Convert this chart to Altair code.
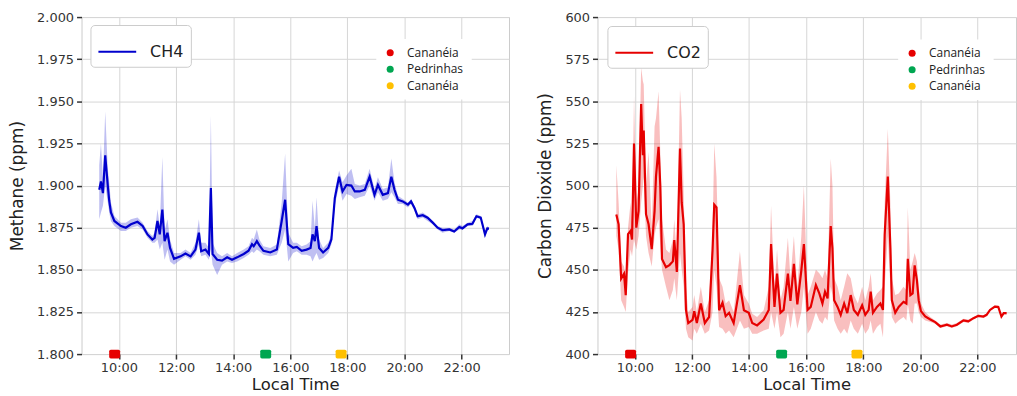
import altair as alt
import pandas as pd

# ---------------- data ----------------
ch4_time = [9.31, 9.37, 9.44, 9.52, 9.61, 9.66, 9.72, 9.84, 10.07, 10.24, 10.42, 10.65, 10.83, 11.0,
            11.17, 11.25, 11.35, 11.43, 11.52, 11.6, 11.70, 11.79, 11.93, 12.16, 12.33, 12.51, 12.68,
            12.80, 12.88, 13.03, 13.15, 13.22, 13.28, 13.44, 13.61, 13.79, 13.96, 14.14, 14.37, 14.54,
            14.66, 14.72, 14.83, 14.92, 15.06, 15.30, 15.53, 15.70, 15.82, 15.93, 16.1, 16.23, 16.40,
            16.57, 16.71, 16.78, 16.86, 16.92, 17.01, 17.15, 17.33, 17.44, 17.56, 17.71, 17.83, 17.97,
            18.14, 18.26, 18.43, 18.61, 18.78, 18.95, 19.07, 19.24, 19.42, 19.54, 19.65, 19.77, 19.94,
            20.12, 20.23, 20.35, 20.46, 20.64, 20.81, 20.99, 21.16, 21.33, 21.57, 21.74, 21.92, 22.03,
            22.21, 22.38, 22.52, 22.67, 22.82, 22.90, 22.96]
ch4_mean = [1.8975, 1.9024, 1.8955, 1.918, 1.900, 1.891, 1.884, 1.879, 1.876, 1.875, 1.877, 1.8785,
            1.876, 1.871, 1.868, 1.869, 1.879, 1.871, 1.8857, 1.867, 1.872, 1.863, 1.8565, 1.858,
            1.8597, 1.858, 1.862, 1.872, 1.861, 1.862, 1.8594, 1.8985, 1.8594, 1.856, 1.8555, 1.8574,
            1.856, 1.8574, 1.8594, 1.8613, 1.8652, 1.864, 1.867, 1.8645, 1.8613, 1.8603, 1.862, 1.879,
            1.8916, 1.8652, 1.863, 1.8636, 1.8613, 1.862, 1.863, 1.871, 1.867, 1.876, 1.863, 1.8603,
            1.863, 1.868, 1.8926, 1.9053, 1.8965, 1.9004, 1.900, 1.8965, 1.8965, 1.8975, 1.9053, 1.8945,
            1.9004, 1.8945, 1.8955, 1.9053, 1.8975, 1.8916, 1.8906, 1.8887, 1.8906, 1.8867, 1.8818,
            1.8824, 1.8809, 1.878, 1.875, 1.8735, 1.874, 1.8727, 1.8754, 1.8746, 1.877, 1.8773, 1.8818,
            1.881, 1.871, 1.8746, 1.8745]
ch4_low = [1.880, 1.884, 1.888, 1.900, 1.890, 1.884, 1.879, 1.876, 1.873, 1.873, 1.875, 1.876, 1.874,
           1.869, 1.866, 1.866, 1.868, 1.862, 1.866, 1.856, 1.862, 1.855, 1.853, 1.856, 1.858, 1.856,
           1.859, 1.865, 1.858, 1.859, 1.856, 1.862, 1.853, 1.847, 1.853, 1.855, 1.854, 1.855, 1.857,
           1.859, 1.861, 1.860, 1.862, 1.861, 1.859, 1.858, 1.859, 1.866, 1.874, 1.855, 1.860, 1.861,
           1.859, 1.859, 1.858, 1.855, 1.858, 1.860, 1.856, 1.857, 1.860, 1.865, 1.888, 1.900, 1.891,
           1.895, 1.894, 1.892, 1.893, 1.894, 1.900, 1.891, 1.896, 1.891, 1.892, 1.896, 1.893, 1.889,
           1.889, 1.887, 1.889, 1.885, 1.880, 1.881, 1.879, 1.877, 1.874, 1.872, 1.873, 1.872, 1.874,
           1.874, 1.876, 1.876, 1.881, 1.880, 1.869, 1.873, 1.874]
ch4_high = [1.912, 1.925, 1.905, 1.944, 1.910, 1.902, 1.890, 1.882, 1.878, 1.878, 1.880, 1.881, 1.878,
            1.873, 1.870, 1.872, 1.886, 1.876, 1.917, 1.873, 1.880, 1.868, 1.860, 1.860, 1.862, 1.860,
            1.866, 1.880, 1.866, 1.866, 1.863, 1.9415, 1.866, 1.860, 1.858, 1.860, 1.858, 1.860, 1.862,
            1.864, 1.869, 1.868, 1.874, 1.868, 1.864, 1.863, 1.865, 1.890, 1.919, 1.872, 1.866, 1.866,
            1.864, 1.865, 1.867, 1.891, 1.875, 1.893, 1.868, 1.863, 1.866, 1.871, 1.897, 1.909, 1.902,
            1.906, 1.910, 1.901, 1.900, 1.901, 1.910, 1.898, 1.905, 1.898, 1.899, 1.916, 1.902, 1.894,
            1.892, 1.890, 1.892, 1.888, 1.883, 1.884, 1.882, 1.879, 1.876, 1.875, 1.875, 1.874, 1.877,
            1.876, 1.878, 1.879, 1.883, 1.882, 1.873, 1.876, 1.875]

co2_time = [9.35, 9.43, 9.52, 9.62, 9.68, 9.76, 9.85, 9.90, 9.97, 10.05, 10.13, 10.22, 10.28, 10.31,
            10.39, 10.48, 10.59, 10.69, 10.74, 10.83, 10.89, 10.95, 11.09, 11.21, 11.33, 11.38, 11.47,
            11.58, 11.64, 11.71, 11.79, 11.87, 12.02, 12.08, 12.17, 12.31, 12.45, 12.60, 12.72, 12.78,
            12.86, 12.95, 13.07, 13.18, 13.30, 13.46, 13.68, 13.82, 13.99, 14.11, 14.28, 14.51, 14.69,
            14.77, 14.89, 14.98, 15.10, 15.21, 15.36, 15.45, 15.57, 15.69, 15.83, 15.92, 16.05, 16.16,
            16.34, 16.46, 16.57, 16.66, 16.75, 16.86, 16.92, 16.98, 17.10, 17.21, 17.33, 17.44, 17.56,
            17.67, 17.81, 17.96, 18.07, 18.19, 18.26, 18.34, 18.48, 18.60, 18.69, 18.75, 18.86, 18.95,
            19.0, 19.12, 19.24, 19.41, 19.51, 19.56, 19.65, 19.73, 19.80, 19.88, 19.94, 20.02, 20.17,
            20.35, 20.52, 20.70, 20.93, 21.1, 21.28, 21.51, 21.68, 21.86, 22.03, 22.21, 22.32, 22.44,
            22.61, 22.73, 22.84, 22.92, 23.02]
co2_mean = [482.9, 477, 444.8, 447.7, 435, 471.2, 473.1, 468, 525, 475, 485, 548.4, 518, 532.7, 483,
            477, 462.3, 485, 505.4, 523, 500, 456.5, 451.6, 452.8, 455, 467.6, 448.7, 522, 490, 477,
            426.2, 418.4, 420.3, 425.5, 418.4, 430, 418.4, 422, 461.5, 488.7, 487, 426, 430.5, 422.5,
            424.5, 418.4, 440.9, 426, 424.5, 418.4, 417, 420.5, 426.2, 465.3, 428, 447.7, 424.5, 426.2,
            447.7, 431.5, 453.5, 429.5, 449.6, 465.3, 426.2, 428, 441, 436, 430, 437, 433, 476, 463,
            432, 428, 423.3, 430, 424.3, 435, 426.2, 423.3, 429, 423.3, 426.2, 437, 424.5, 428, 430,
            426.2, 471, 505.4, 463, 432, 424.5, 428, 431, 430, 456.5, 435, 436, 452.6, 443.7, 432,
            425.5, 422.3, 420.5, 419, 416.4, 417.4, 416.4, 417.4, 420, 419.4, 421.3, 422.7, 422.3,
            423.3, 426.2, 428.2, 428, 422.3, 424.3, 424.3]
co2_low = [470, 462, 432, 428, 425, 448, 462, 458, 468, 462, 470, 490, 500, 505, 470, 460, 452, 470,
           475, 480, 465, 450, 440, 432, 438, 445, 432, 460, 450, 440, 415, 410, 408, 415, 412, 418,
           412, 414, 425, 450, 440, 416, 415, 412, 414, 410, 420, 415, 416, 412, 412, 414, 415, 425,
           415, 425, 410, 412, 425, 415, 428, 415, 425, 440, 412, 415, 425, 420, 418, 422, 420, 440,
           435, 420, 415, 412, 415, 412, 420, 415, 412, 418, 412, 415, 420, 412, 416, 418, 410, 440,
           470, 440, 422, 418, 420, 422, 420, 430, 420, 418, 430, 430, 425, 422, 420, 419, 418, 415.5,
           416.5, 415.5, 416.5, 419, 418.5, 420.5, 422, 421.5, 422.5, 425.5, 427.5, 427, 421.5, 423.5,
           423.5]
co2_high = [512, 490, 455, 452, 445, 475, 490, 478, 553, 490, 498, 570, 562, 560, 500, 520, 475, 535,
            540, 556, 520, 480, 462, 460, 468, 480, 458, 557, 540, 495, 440, 425, 428, 435, 425, 440,
            425, 432, 470, 525, 505, 445, 440, 430, 432, 425, 461, 435, 430, 424, 422, 426, 440, 488,
            440, 462, 432, 440, 469, 445, 470, 440, 470, 500, 435, 440, 450, 448, 445, 450, 445, 516,
            500, 445, 440, 432, 440, 448, 445, 435, 430, 440, 432, 440, 448, 432, 436, 438, 440, 490,
            533.7, 490, 445, 435, 436, 440, 438, 487, 450, 455, 460, 455, 440, 430, 425, 422, 420,
            417.5, 418.5, 417.5, 418.5, 421, 420.5, 422, 423.5, 423, 424, 427, 429, 429, 423, 425, 425]

station_keys = ["Cananéia 1", "Pedrinhas", "Cananéia 2"]
station_time = [9.85, 15.14, 17.78]
station_colors = ["#e60000", "#00a651", "#ffc000"]

x_ticks = [10, 12, 14, 16, 18, 20, 22]
ch4_ticks = [1.800, 1.825, 1.850, 1.875, 1.900, 1.925, 1.950, 1.975, 2.000]
co2_ticks = [400, 425, 450, 475, 500, 525, 550, 575, 600]

FONT = "DejaVu Sans"
ROUNDED = ("M-0.7,-0.8 L0.7,-0.8 Q1,-0.8 1,-0.5 L1,0.5 Q1,0.8 0.7,0.8 L-0.7,0.8 "
           "Q-1,0.8 -1,0.5 L-1,-0.5 Q-1,-0.8 -0.7,-0.8 Z")


def panel(times, mean, low, high, name, color, ytitle, ydom, yticks, yfmt, width, xdom,
          line_leg, st_leg):
    df = pd.DataFrame({"t": times, "mean": mean, "lo": low, "hi": high})
    df["series"] = name
    st = pd.DataFrame({"t": station_time, "key": station_keys})
    st["v"] = ydom[0]

    x = alt.X("t:Q", scale=alt.Scale(domain=xdom, nice=False, zero=False),
              axis=alt.Axis(values=x_ticks, labelExpr="datum.value + ':00'",
                            title="Local Time", titlePadding=2, titleFontSize=16.5))
    y_axis = alt.Axis(values=yticks, format=yfmt, title=ytitle, titlePadding=10)
    yscale = alt.Scale(domain=ydom, nice=False, zero=False)

    band = alt.Chart(df).mark_area(color=color, opacity=0.25).encode(
        x=x, y=alt.Y("lo:Q", scale=yscale, axis=y_axis), y2="hi:Q")
    line = alt.Chart(df).mark_line(strokeWidth=2.2).encode(
        x=x, y=alt.Y("mean:Q", scale=yscale, axis=y_axis),
        stroke=alt.Stroke("series:N", scale=alt.Scale(domain=[name], range=[color]),
                          legend=alt.Legend(orient="none", legendX=line_leg[0], legendY=line_leg[1],
                                            title=None, symbolType="stroke", symbolSize=1444,
                                            symbolStrokeWidth=2, labelFont=FONT, labelFontSize=16,
                                            labelColor="#222222", labelOffset=13, padding=7,
                                            fillColor="white", strokeColor="#cccccc",
                                            cornerRadius=4)))
    pts = alt.Chart(st).mark_point(filled=True, shape=ROUNDED, size=121, opacity=1).encode(
        x=x, y=alt.Y("v:Q", scale=yscale, axis=y_axis),
        fill=alt.Fill("key:N", scale=alt.Scale(domain=station_keys, range=station_colors),
                      legend=alt.Legend(orient="none", legendX=st_leg[0], legendY=st_leg[1],
                                        title=None, symbolType="circle", symbolSize=50,
                                        symbolStrokeWidth=0, labelFont="Open Sans",
                                        labelFontSize=12, labelColor="#222222", labelOffset=11,
                                        padding=8, rowPadding=4.5, fillColor="white",
                                        labelExpr="datum.label == 'Pedrinhas' ? 'Pedrinhas' : 'Cananéia'")))
    return alt.layer(band, line, pts).properties(width=width, height=339)


left = panel(ch4_time, ch4_mean, ch4_low, ch4_high, "CH4", "#0000cd", "Methane (ppm)",
             [1.8, 2.0], ch4_ticks, ".3f", 430, [8.69, 23.66], (9, 8), (296.5, 22))
right = panel(co2_time, co2_mean, co2_low, co2_high, "CO2", "#e60000", "Carbon Dioxide (ppm)",
              [400, 600], co2_ticks, "d", 421, [8.69, 23.35], (10, 9), (302.5, 22.5))

chart = alt.hconcat(left, right, spacing=26).resolve_scale(
    stroke="independent", fill="independent"
).properties(
    padding={"left": 8, "top": 9, "right": 0, "bottom": 0},
    background="white",
).configure_view(
    stroke="#cccccc", strokeWidth=1
).configure_axis(
    labelFont=FONT, labelFontSize=13, labelColor="#333333",
    titleFont=FONT, titleFontSize=17, titleFontWeight="normal", titleColor="#222222",
    grid=True, gridColor="#d6d6d6", gridWidth=1,
    domain=False, ticks=True, tickColor="#333333", tickSize=5, tickWidth=1.5,
    labelPadding=3,
)

chart.save("out.html", embed_options={"renderer": "svg", "actions": False})
